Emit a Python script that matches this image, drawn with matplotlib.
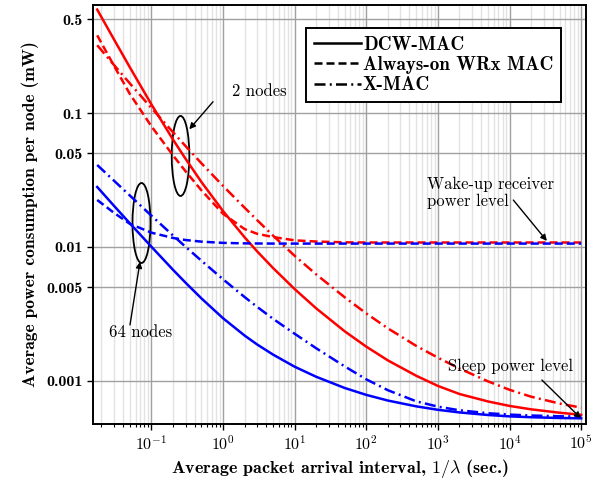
import matplotlib
matplotlib.use("Agg")
import matplotlib.pyplot as plt
import matplotlib.ticker as mticker
import matplotlib.transforms as mtransforms
from matplotlib.patches import Ellipse

plt.rcParams["mathtext.fontset"] = "cm"
plt.rcParams["axes.unicode_minus"] = False
plt.rcParams["font.family"] = ["cmb10", "DejaVu Serif"]

# ============================================================
# Data (1/lambda in sec., power in mW)
# ============================================================
interval = [0.0175, 0.03, 0.05, 0.1, 0.2, 0.3, 0.5, 1, 2, 3, 5, 10, 20, 50,
            100, 200, 500, 1e3, 2e3, 5e3, 1e4, 2e4, 5e4, 1e5]

# 2 nodes (red)
dcw_2 = [0.5916, 0.3545, 0.2193, 0.1159, 0.0634, 0.0455, 0.0305, 0.01854, 0.01181,
         0.00926, 0.00696, 0.00485, 0.00348, 0.002346, 0.001803, 0.001424,
         0.001092, 0.000918, 0.000799, 0.000703, 0.000651, 0.000614, 0.000579,
         0.000559]
wrx_2 = [0.380, 0.2254, 0.1387, 0.0796, 0.0483, 0.0367, 0.02645, 0.01769, 0.01360,
         0.01254, 0.01186, 0.01121, 0.01098, 0.01083, 0.0108, 0.0108, 0.0108,
         0.0108, 0.0108, 0.0108, 0.0108, 0.0108, 0.0108, 0.0108]
xmac_2 = [0.3206, 0.2284, 0.1663, 0.1090, 0.0719, 0.0566, 0.0421, 0.02855, 0.01964,
          0.01585, 0.01214, 0.00859, 0.00624, 0.00421, 0.00319, 0.00247, 0.001824,
          0.001492, 0.001238, 0.000993, 0.000859, 0.000763, 0.000678, 0.000632]

# 64 nodes (blue)
dcw_64 = [0.02804, 0.02030, 0.01501, 0.01004, 0.00676, 0.00541, 0.00413, 0.002938,
          0.002182, 0.00187, 0.001572, 0.001277, 0.001074, 0.000886, 0.000787,
          0.000714, 0.000646, 0.000609, 0.000582, 0.000557, 0.000544, 0.000536,
          0.000529, 0.000526]
wrx_64 = [0.02244, 0.01799, 0.01489, 0.01279, 0.01168, 0.01127, 0.01096, 0.01073,
          0.01064, 0.01062, 0.0106, 0.0106, 0.0106, 0.0106, 0.0106, 0.0106, 0.0106,
          0.0106, 0.0106, 0.0106, 0.0106, 0.0106, 0.0106, 0.0106]
xmac_64 = [0.04093, 0.03126, 0.02421, 0.01712, 0.01219, 0.01003, 0.00789, 0.00574,
           0.00423, 0.00357, 0.002908, 0.00225, 0.001753, 0.001284, 0.001028,
           0.000853, 0.000704, 0.000643, 0.000604, 0.000574, 0.000561, 0.000552,
           0.000545, 0.000542]

ytick_vals = [0.001, 0.005, 0.01, 0.05, 0.1, 0.5]
ytick_labels = ["0.001", "0.005", "0.01", "0.05", "0.1", "0.5"]
xtick_vals = [1e-1, 1e0, 1e1, 1e2, 1e3, 1e4, 1e5]
xtick_labels = [r"$\mathbf{10^{-1}}$", r"$\mathbf{10^{0}}$", r"$\mathbf{10^{1}}$",
                r"$\mathbf{10^{2}}$", r"$\mathbf{10^{3}}$", r"$\mathbf{10^{4}}$",
                r"$\mathbf{10^{5}}$"]
legend_names = ["DCW-MAC", "Always-on WRx MAC", "X-MAC"]

# ============================================================
# Plot
# ============================================================
fig = plt.figure(figsize=(6.12, 4.82), dpi=100)
ax = fig.add_axes([0.152, 0.1203, 0.8056, 0.8693])

lw = 1.8
dashed = (0, (3.2, 1.6))
dashdot = (0, (4.4, 1.7, 0.8, 1.7))

ax.plot(interval, dcw_2, color="#ff0000", lw=lw, ls="-")
ax.plot(interval, wrx_2, color="#ff0000", lw=lw, ls=dashed)
ax.plot(interval, xmac_2, color="#ff0000", lw=lw, ls=dashdot)
ax.plot(interval, dcw_64, color="#0000ff", lw=lw, ls="-")
ax.plot(interval, wrx_64, color="#0000ff", lw=lw, ls=dashed)
ax.plot(interval, xmac_64, color="#0000ff", lw=lw, ls=dashdot)

ax.set_xscale("log")
ax.set_yscale("log")
ax.set_xlim(0.0153, 1.17e5)
ax.set_ylim(4.77e-4, 0.64)

ax.set_xticks(xtick_vals)
ax.set_xticklabels(xtick_labels)
ax.xaxis.set_minor_locator(mticker.LogLocator(base=10, subs=range(2, 10), numticks=20))
ax.xaxis.set_minor_formatter(mticker.NullFormatter())
ax.set_yticks(ytick_vals)
ax.set_yticklabels(ytick_labels)
ax.yaxis.set_minor_locator(mticker.NullLocator())

ax.tick_params(axis="both", which="major", direction="out", length=4, width=1,
               labelsize=11.5, colors="k")
ax.tick_params(axis="x", which="minor", direction="out", length=2.5, width=0.8)

ax.grid(True, which="major", color="#a0a0a0", lw=1.0)
ax.grid(True, which="minor", axis="x", color="#e2e2e2", lw=1.0)
ax.set_axisbelow(True)

for s in ax.spines.values():
    s.set_linewidth(1.4)
    s.set_color("k")

ax.set_xlabel(r"Average packet arrival interval, $\mathbf{1/}\lambda$ (sec.)",
              fontsize=13, labelpad=3)
ax.set_ylabel("Average power consumption per node (mW)", fontsize=12.6, labelpad=5)

# legend (black line styles)
h1, = ax.plot([], [], color="k", lw=lw, ls="-")
h2, = ax.plot([], [], color="k", lw=lw, ls=dashed)
h3, = ax.plot([], [], color="k", lw=lw, ls=dashdot)
leg = ax.legend([h1, h2, h3], legend_names, loc="upper right",
                bbox_to_anchor=(0.949, 0.945), borderaxespad=0, fontsize=13.8,
                handlelength=2.45, handletextpad=0.1, labelspacing=0.12,
                borderpad=0.4, fancybox=False, framealpha=1, edgecolor="k")
leg.get_frame().set_linewidth(1.4)

# ============================================================
# Annotations
# ============================================================
note_font = dict(family="cmr10", fontsize=12, color="k")
arrow = dict(arrowstyle="-|>", color="k", lw=1.0, mutation_scale=9,
             shrinkA=0, shrinkB=0)

def ring(xc, yc, w, h):
    tr = fig.dpi_scale_trans + mtransforms.ScaledTranslation(xc, yc, ax.transData)
    ax.add_patch(Ellipse((0, 0), w, h, transform=tr, fill=False, ec="k", lw=1.3))

ring(0.255, 0.0478, 0.176, 0.80)
ring(0.0727, 0.0151, 0.18, 0.80)

ax.text(3.18, 0.146, "2 nodes", ha="center", va="center", **note_font)
ax.annotate("", xy=(0.338, 0.0756), xytext=(0.725, 0.1214), arrowprops=arrow)

ax.text(0.0716, 0.00232, "64 nodes", ha="center", va="center", **note_font)
ax.annotate("", xy=(0.0693, 0.00776), xytext=(0.0502, 0.00262), arrowprops=arrow)

ax.text(707, 0.0333, "Wake-up receiver\npower level", ha="left", va="top",
        linespacing=1.1, **note_font)
ax.annotate("", xy=(3.32e4, 0.0111), xytext=(1.13e4, 0.0224), arrowprops=arrow)

ax.text(1.02e4, 0.00128, "Sleep power level", ha="center", va="center", **note_font)
ax.annotate("", xy=(9.9e4, 0.000527), xytext=(2.83e4, 0.001016), arrowprops=arrow)

fig.savefig("out.png", dpi=100)
